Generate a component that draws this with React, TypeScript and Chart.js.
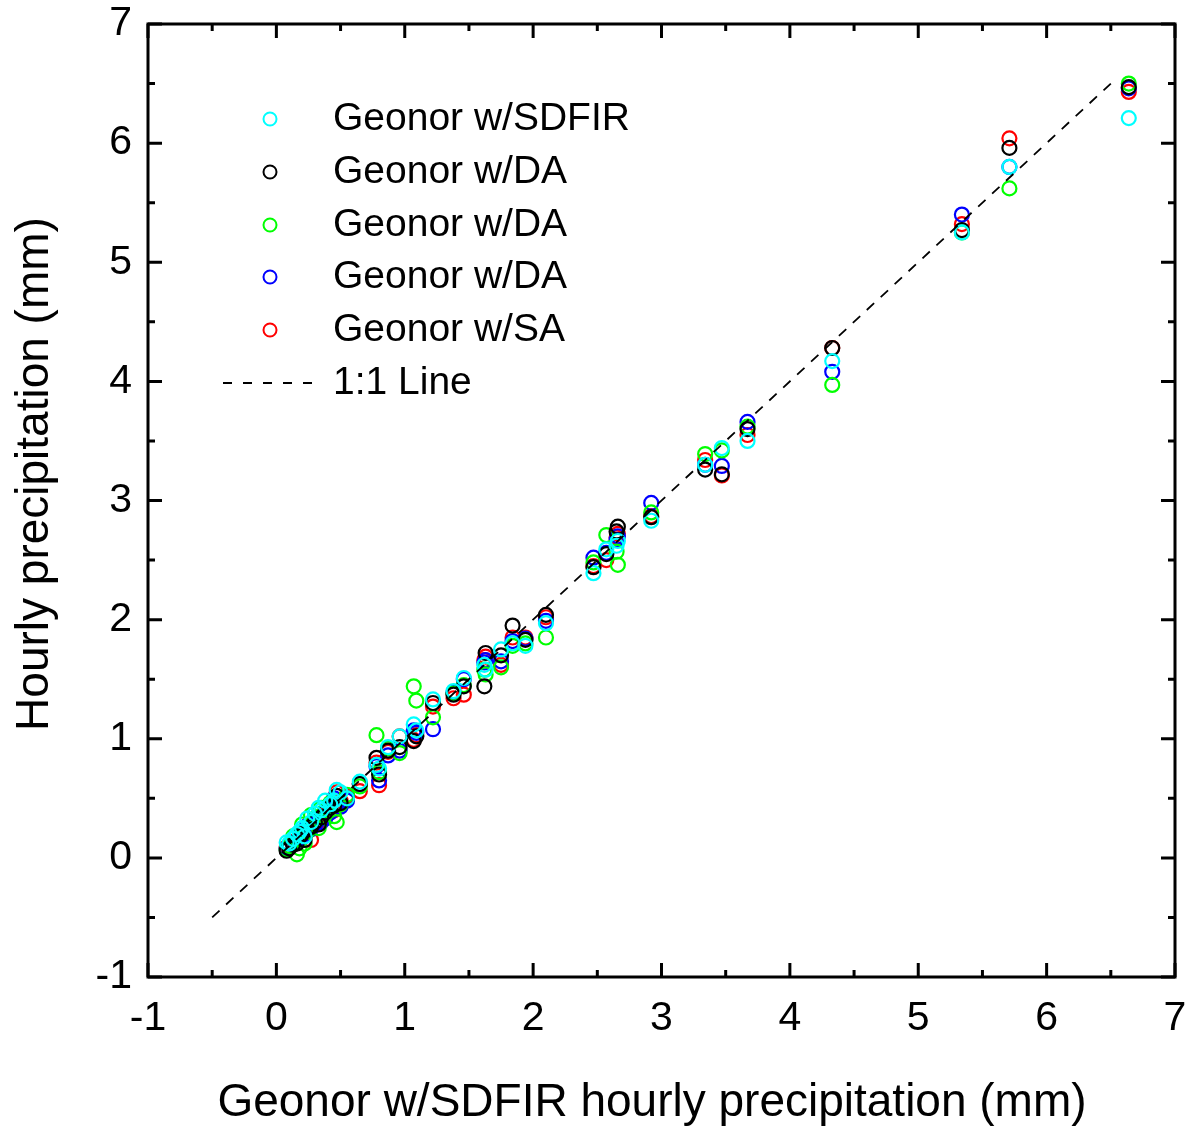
import React, { useEffect, useRef } from 'react';
import { Chart, registerables } from 'chart.js';

Chart.register(...registerables);

const FONT = '"Liberation Sans", Arial, Helvetica, sans-serif';

// SDFIR hourly precipitation (x, shared by all series)
const xSdfir = [0.08, 0.10, 0.13, 0.16, 0.18, 0.20, 0.22, 0.24, 0.27, 0.30, 0.33, 0.35, 0.38, 0.42, 0.45, 0.47, 0.50, 0.55, 0.65, 0.78, 0.80, 0.87, 0.96, 1.07, 1.09, 1.22, 1.38, 1.46, 1.62, 1.63, 1.75, 1.84, 1.94, 2.10, 2.47, 2.57, 2.65, 2.66, 2.92, 3.34, 3.47, 3.67, 4.33, 5.34, 5.71, 6.64];
const ySdfir = [0.13, 0.12, 0.16, 0.20, 0.22, 0.25, 0.18, 0.33, 0.30, 0.37, 0.42, 0.40, 0.48, 0.45, 0.48, 0.57, 0.55, 0.50, 0.64, 0.78, 0.75, 0.93, 1.02, 1.12, 1.07, 1.33, 1.40, 1.51, 1.62, 1.58, 1.75, 1.80, 1.78, 1.97, 2.39, 2.59, 2.62, 2.66, 2.83, 3.30, 3.44, 3.50, 4.17, 5.25, 5.80, 6.21];
const yDaBlack = [0.06, 0.08, 0.11, 0.12, 0.18, 0.20, 0.15, 0.24, 0.26, 0.30, 0.28, 0.34, 0.38, 0.42, 0.44, 0.52, 0.46, 0.50, 0.62, 0.84, 0.70, 0.90, 0.93, 0.98, 1.02, 1.30, 1.37, 1.44, 1.44, 1.72, 1.70, 1.95, 1.83, 2.04, 2.44, 2.55, 2.74, 2.78, 2.86, 3.26, 3.22, 3.60, 4.28, 5.27, 5.96, 6.47];
const yDaGreen = [0.07, 0.10, 0.18, 0.03, 0.08, 0.28, 0.12, 0.22, 0.36, 0.33, 0.25, 0.42, 0.40, 0.46, 0.35, 0.30, 0.45, 0.53, 0.60, 1.03, 0.72, 0.92, 0.88, 1.44, 1.32, 1.18, 1.38, 1.45, 1.58, 1.54, 1.60, 1.78, 1.80, 1.85, 2.48, 2.71, 2.57, 2.46, 2.90, 3.39, 3.42, 3.62, 3.97, 5.25, 5.62, 6.50];
const yDaBlue = [0.08, 0.09, 0.12, 0.14, 0.17, 0.18, 0.20, 0.27, 0.24, 0.28, 0.32, 0.30, 0.33, 0.38, 0.50, 0.45, 0.43, 0.48, 0.62, 0.77, 0.65, 0.86, 0.90, 1.07, 1.05, 1.08, 1.39, 1.50, 1.64, 1.66, 1.65, 1.82, 1.84, 1.99, 2.52, 2.56, 2.67, 2.70, 2.98, 3.30, 3.29, 3.66, 4.08, 5.40, 5.80, 6.46];
const ySa = [0.09, 0.10, 0.13, 0.15, 0.16, 0.20, 0.19, 0.22, 0.15, 0.28, 0.30, 0.32, 0.36, 0.43, 0.40, 0.55, 0.48, 0.52, 0.56, 0.80, 0.61, 0.89, 1.02, 0.99, 1.03, 1.27, 1.34, 1.37, 1.66, 1.69, 1.62, 1.85, 1.85, 2.02, 2.45, 2.50, 2.69, 2.72, 2.87, 3.34, 3.21, 3.55, 4.28, 5.32, 6.04, 6.43];

const lineX = [-0.5, 6.5];
const seriesLabels = ['Geonor w/SDFIR', 'Geonor w/DA', 'Geonor w/DA', 'Geonor w/DA', 'Geonor w/SA'];
const seriesColors = ['#00FFFF', '#000000', '#00FF00', '#0000FF', '#FF0000'];
const seriesY = [ySdfir, yDaBlack, yDaGreen, yDaBlue, ySa];
const lineLabel = '1:1 Line';
const axisMin = -1;
const axisMax = 7;
const xTitle = 'Geonor w/SDFIR hourly precipitation (mm)';
const yTitle = 'Hourly precipitation (mm)';

const framePlugin = {
  id: 'frameAndLegend',
  afterDraw(chart: any) {
    const { ctx, chartArea: a } = chart;
    const xs = chart.scales.x;
    const ys = chart.scales.y;
    ctx.save();
    ctx.strokeStyle = '#000';
    ctx.lineWidth = 3;
    ctx.setLineDash([]);
    ctx.strokeRect(a.left, a.top, a.right - a.left, a.bottom - a.top);
    for (let v = axisMin; v <= axisMax + 1e-9; v += 0.5) {
      const major = Math.abs(v - Math.round(v)) < 1e-9;
      const len = major ? 14 : 7;
      const px = xs.getPixelForValue(v);
      const py = ys.getPixelForValue(v);
      ctx.beginPath();
      ctx.moveTo(px, a.bottom);
      ctx.lineTo(px, a.bottom - len);
      ctx.moveTo(px, a.top);
      ctx.lineTo(px, a.top + len);
      ctx.moveTo(a.left, py);
      ctx.lineTo(a.left + len, py);
      ctx.moveTo(a.right, py);
      ctx.lineTo(a.right - len, py);
      ctx.stroke();
    }
    // axis titles
    ctx.fillStyle = '#000';
    ctx.font = `46px ${FONT}`;
    ctx.textAlign = 'center';
    ctx.textBaseline = 'middle';
    ctx.fillText(xTitle, 652, 1103);
    ctx.save();
    ctx.translate(35, 474);
    ctx.rotate(-Math.PI / 2);
    ctx.fillText(yTitle, 0, 0);
    ctx.restore();
    // legend
    const rowY = [119, 172, 225, 277, 330, 383];
    const markerX = 270;
    const textX = 333;
    ctx.font = `39px ${FONT}`;
    ctx.textBaseline = 'middle';
    ctx.textAlign = 'left';
    ctx.lineWidth = 2;
    seriesLabels.forEach((lab, i) => {
      ctx.strokeStyle = seriesColors[i];
      ctx.beginPath();
      ctx.arc(markerX, rowY[i], 6.5, 0, Math.PI * 2);
      ctx.stroke();
      ctx.fillStyle = '#000';
      ctx.fillText(lab, textX, rowY[i]);
    });
    ctx.strokeStyle = '#000';
    ctx.lineWidth = 2;
    ctx.setLineDash([9, 11]);
    ctx.beginPath();
    ctx.moveTo(223, rowY[5]);
    ctx.lineTo(322, rowY[5]);
    ctx.stroke();
    ctx.setLineDash([]);
    ctx.fillStyle = '#000';
    ctx.fillText(lineLabel, textX, rowY[5]);
    ctx.restore();
  },
};

export default function App() {
  const ref = useRef<HTMLCanvasElement | null>(null);
  useEffect(() => {
    if (!ref.current) return;
    const datasets: any[] = [
      {
        type: 'line',
        label: lineLabel,
        data: lineX.map((v) => ({ x: v, y: v })),
        borderColor: '#000',
        borderWidth: 1.8,
        borderDash: [10, 9],
        pointRadius: 0,
        fill: false,
      },
    ];
    seriesLabels.forEach((lab, i) => {
      datasets.push({
        type: 'scatter',
        label: lab,
        data: xSdfir.map((xv, j) => ({ x: xv, y: seriesY[i][j] })),
        borderColor: seriesColors[i],
        backgroundColor: 'rgba(0,0,0,0)',
        pointRadius: 7,
        pointBorderWidth: 2.2,
        pointHoverRadius: 7,
      });
    });
    const chart = new Chart(ref.current, {
      type: 'scatter',
      data: { datasets },
      plugins: [framePlugin],
      options: {
        animation: false,
        responsive: false,
        layout: { padding: { top: 24, right: 16, left: 0, bottom: 0 } },
        plugins: { legend: { display: false }, tooltip: { enabled: false } },
        scales: {
          x: {
            type: 'linear',
            min: axisMin,
            max: axisMax,
            afterFit: (s: any) => {
              s.height = 155;
              s.paddingLeft = 0;
              s.paddingRight = 0;
            },
            ticks: {
              stepSize: 1,
              autoSkip: false,
              maxRotation: 0,
              padding: 17,
              color: '#000',
              font: { size: 41, family: FONT },
            },
            grid: { display: false, drawTicks: false },
            border: { display: false },
            title: { display: false, text: xTitle },
          },
          y: {
            type: 'linear',
            min: axisMin,
            max: axisMax,
            afterFit: (s: any) => {
              s.width = 148;
              s.paddingTop = 0;
              s.paddingBottom = 0;
            },
            ticks: {
              stepSize: 1,
              autoSkip: false,
              padding: 16,
              color: '#000',
              font: { size: 41, family: FONT },
            },
            grid: { display: false, drawTicks: false },
            border: { display: false },
            title: { display: false, text: yTitle },
          },
        },
      },
    });
    return () => chart.destroy();
  }, []);
  return (
    <div style={{ position: 'absolute', left: 0, top: 0, width: 1191, height: 1132, background: '#fff' }}>
      <canvas ref={ref} width={1191} height={1132} style={{ width: 1191, height: 1132 }} />
    </div>
  );
}
